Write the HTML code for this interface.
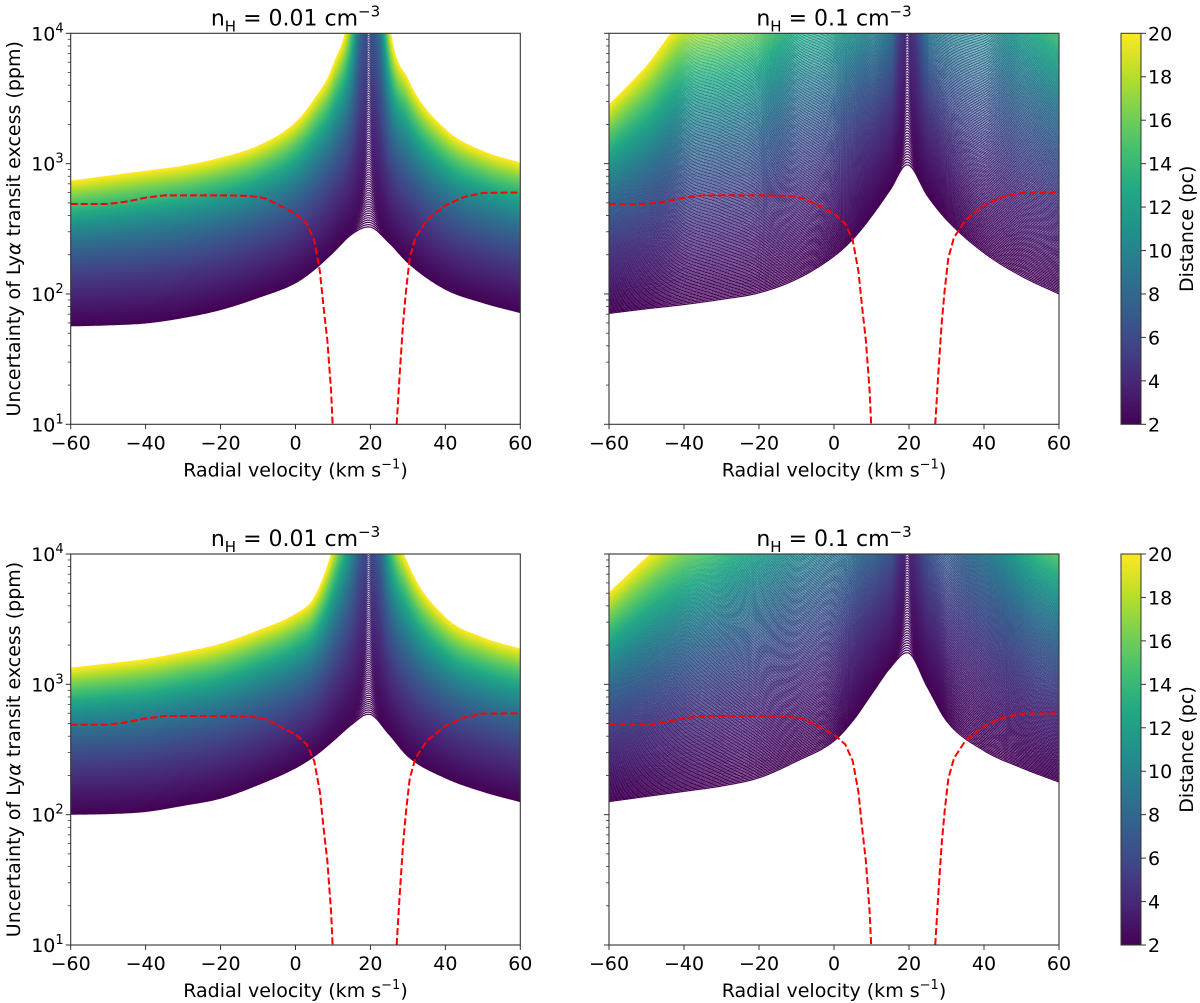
<!DOCTYPE html>
<html>
<head>
<meta charset="utf-8">
<style>
  html,body{margin:0;padding:0;background:#fff;}
  svg{display:block;font-family:"DejaVu Sans","Liberation Sans",sans-serif;}
</style>
</head>
<body>
<svg id="fig" width="1200" height="1003" viewBox="0 0 1200 1003" xmlns="http://www.w3.org/2000/svg">
  <defs>
    <linearGradient id="viridis" x1="0" y1="1" x2="0" y2="0">
      <stop offset="0" stop-color="#440154"/>
      <stop offset="0.1" stop-color="#482475"/>
      <stop offset="0.2" stop-color="#414487"/>
      <stop offset="0.3" stop-color="#355f8d"/>
      <stop offset="0.4" stop-color="#2a788e"/>
      <stop offset="0.5" stop-color="#21918c"/>
      <stop offset="0.6" stop-color="#22a884"/>
      <stop offset="0.7" stop-color="#44bf70"/>
      <stop offset="0.8" stop-color="#7ad151"/>
      <stop offset="0.9" stop-color="#bddf26"/>
      <stop offset="1" stop-color="#fde725"/>
    </linearGradient>
  </defs>
</svg>
<script>
// ---- data ----
const VEL = [-60,-50,-40,-30,-20,-10,0,5,10,15,19.5,25,30,40,50,60];
const TL_LOWER = [57,58,60,66,76,94,122,154,208,287,327,247,174,109,86,72];
const TL_UPPER = [733,800,873,955,1100,1360,2050,3090,5560,20000,1e6,12000,4400,1820,1240,1010];
const TR_LOWER = [71,77,83,91,102,130,195,263,395,632,980,562,372,207,137,100];
const TR_UPPER = [2800,5560,12600,15000,19000,35000,40000,48000,55000,62000,1e7,67000,70000,78000,45000,23000];
const BL_LOWER = [101,102,106,118,134,170,229,281,368,492,590,413,281,192,151,126];
const BL_UPPER = [1330,1430,1550,1750,2030,2570,3450,4600,11000,50000,1e6,25000,8300,3240,2270,1860];
const BR_LOWER = [126,138,151,166,192,257,368,525,840,1340,1750,940,525,310,229,178];
const BR_UPPER = [5000,9300,16000,24000,40000,65000,90000,95000,100000,120000,1e7,200000,220000,100000,33000,18000];
const RED_V_LEFT = [-60,-50,-45,-40,-35,-20,-12,-8,-5,0,3,5,6.5,7.5,8.5,9.5,9.9];
const RED_LEFT = [490,490,512,548,571,571,565,540,490,413,346,258,150,79,44,18,10];
const RED_V_RIGHT = [27,27.8,28.7,29.5,30.5,32,35,40,45,50,60];
const RED_RIGHT = [10,24,59,106,190,271,368,479,555,596,600];
const X_TICKS = [-60,-40,-20,0,20,40,60];
const Y_DECADES = [1,2,3,4];
const CB_TICKS = [2,4,6,8,10,12,14,16,18,20];
const D_MIN = 2, D_MAX = 20, N_CURVES = 200;

const NS = "http://www.w3.org/2000/svg";
const svg = document.getElementById('fig');
function el(tag, attrs, parent){
  const e = document.createElementNS(NS, tag);
  for (const k in attrs) e.setAttribute(k, attrs[k]);
  (parent||svg).appendChild(e);
  return e;
}
const VIR = ["#440154","#482475","#414487","#355f8d","#2a788e","#21918c","#22a884","#44bf70","#7ad151","#bddf26","#fde725"];
function hex2rgb(h){return [parseInt(h.substr(1,2),16),parseInt(h.substr(3,2),16),parseInt(h.substr(5,2),16)];}
function viridis(t){
  t=Math.max(0,Math.min(1,t));
  const s=t*10, i=Math.min(9,Math.floor(s)), f=s-i;
  const a=hex2rgb(VIR[i]), b=hex2rgb(VIR[i+1]);
  return "rgb("+a.map((c,k)=>Math.round(c+(b[k]-c)*f)).join(",")+")";
}
function monoInterp(xs, ys, x){
  const n=xs.length;
  if (x<=xs[0]) return ys[0];
  if (x>=xs[n-1]) return ys[n-1];
  const d=[], m=[];
  for(let i=0;i<n-1;i++) d.push((ys[i+1]-ys[i])/(xs[i+1]-xs[i]));
  m.push(d[0]);
  for(let i=1;i<n-1;i++){ m.push(d[i-1]*d[i]<=0?0:(d[i-1]+d[i])/2); }
  m.push(d[n-2]);
  for(let i=0;i<n-1;i++){ if(d[i]===0){m[i]=0;m[i+1]=0;continue;}
    const a=m[i]/d[i], b=m[i+1]/d[i], s=a*a+b*b;
    if(s>9){const t=3/Math.sqrt(s); m[i]=t*a*d[i]; m[i+1]=t*b*d[i];}}
  let i=0; while(x>xs[i+1]) i++;
  const h=xs[i+1]-xs[i], t=(x-xs[i])/h;
  const h00=2*t*t*t-3*t*t+1, h10=t*t*t-2*t*t+t, h01=-2*t*t*t+3*t*t, h11=t*t*t-t*t;
  return h00*ys[i]+h10*h*m[i]+h01*ys[i+1]+h11*h*m[i+1];
}
const LOG = a => a.map(v=>Math.log10(v));

const panels = [
  {name:'top-left', x0:70.7,x1:520.3,y0:33.3,y1:424.3, lo:TL_LOWER, up:TL_UPPER, title:'0.01', ylab:true},
  {name:'top-right',x0:609,x1:1059,y0:33.3,y1:424.3, lo:TR_LOWER, up:TR_UPPER, title:'0.1', ylab:false},
  {name:'bottom-left', x0:70.7,x1:520.3,y0:554,y1:945, lo:BL_LOWER, up:BL_UPPER, title:'0.01', ylab:true},
  {name:'bottom-right',x0:609,x1:1059,y0:554,y1:945, lo:BR_LOWER, up:BR_UPPER, title:'0.1', ylab:false},
];

panels.forEach((P, pi)=>{
  const g = el('g', {});
  
  
  const xs = v => P.x0 + (v+60)/120*(P.x1-P.x0);
  const ys = lg => P.y1 - (lg-1)/3*(P.y1-P.y0);
  const clipId = 'clip'+pi;
  const cp = el('clipPath', {id:clipId}, g);
  el('rect', {x:P.x0, y:P.y0, width:P.x1-P.x0, height:P.y1-P.y0}, cp);
  const curves = el('g', {'clip-path':'url(#'+clipId+')'}, g);
  
  
  const lo = LOG(P.lo), up = LOG(P.up);
  const vs = [], Ls = [], Us = [];
  for (let v=-60; v<=60.001; v+=0.25){
    vs.push(v); Ls.push(monoInterp(VEL, lo, v)); Us.push(monoInterp(VEL, up, v));
  }
  for (let k=0;k<N_CURVES;k++){
    const f = k/(N_CURVES-1);
    const d = D_MIN*Math.pow(D_MAX/D_MIN, f);
    const t = Math.pow((d-D_MIN)/(D_MAX-D_MIN), 0.85);
    let pts = [];
    for (let i=0;i<vs.length;i++){
      let lg = Ls[i] + f*(Us[i]-Ls[i]);
      lg = Math.min(lg, 4.6);
      pts.push(xs(vs[i]).toFixed(1)+','+ys(lg).toFixed(1));
    }
    const pl = el('polyline', {points:pts.join(' '), fill:'none', stroke:viridis(t), 'stroke-width':1.2}, curves);
    
    
  }
  [[RED_V_LEFT,RED_LEFT],[RED_V_RIGHT,RED_RIGHT]].forEach((pair,j)=>{
    const pts = pair[0].map((v,i)=>xs(v).toFixed(2)+','+ys(Math.log10(pair[1][i])).toFixed(2));
    const rl = el('polyline', {points:pts.join(' '), fill:'none', stroke:'#ff0000', 'stroke-width':2, 'stroke-dasharray':'7,3'}, curves);
    
    
  });
  const fr = el('rect', {x:P.x0, y:P.y0, width:P.x1-P.x0, height:P.y1-P.y0, fill:'none', stroke:'#333', 'stroke-width':1.1}, g);
  
  
  X_TICKS.forEach(t=>{
    const x = xs(t);
    el('line', {x1:x, x2:x, y1:P.y1, y2:P.y1+5, stroke:'#333', 'stroke-width':1}, g);
    const tx = el('text', {x:x, y:P.y1+25, 'text-anchor':'middle', 'font-size':19, fill:'#000'}, g);
    tx.textContent = (t<0?'\u2212':'')+Math.abs(t);
    
    
  });
  const xl = el('text', {x:(P.x0+P.x1)/2, y:P.y1+52, 'text-anchor':'middle', 'font-size':19, fill:'#000'}, g);
  xl.innerHTML = 'Radial velocity (km s<tspan dy="-8" font-size="13">\u22121</tspan><tspan dy="8">)</tspan>';
  
  
  Y_DECADES.forEach(dd=>{
    const y = ys(dd);
    el('line', {x1:P.x0-5, x2:P.x0, y1:y, y2:y, stroke:'#333', 'stroke-width':1}, g);
    if (dd<4) for (let m=2;m<=9;m++){
      const ym = ys(dd+Math.log10(m));
      el('line', {x1:P.x0-3, x2:P.x0, y1:ym, y2:ym, stroke:'#333', 'stroke-width':0.8}, g);
    }
    if (P.ylab){
      const ty = el('text', {x:P.x0-7, y:y+7, 'text-anchor':'end', 'font-size':19, fill:'#000'}, g);
      ty.innerHTML = '10<tspan dy="-8" font-size="13">'+dd+'</tspan>';
      
      
    }
  });
  if (P.ylab){
    const cy = (P.y0+P.y1)/2;
    const yl = el('text', {x:0, y:0, transform:'translate(20,'+cy+') rotate(-90)', 'text-anchor':'middle', 'font-size':19, fill:'#000'}, g);
    yl.innerHTML = 'Uncertainty of Ly<tspan font-style="italic">\u03b1</tspan> transit excess (ppm)';
    
    
  }
  const tt = el('text', {x:(P.x0+P.x1)/2, y:P.y0-8, 'text-anchor':'middle', 'font-size':22, fill:'#000'}, g);
  tt.innerHTML = 'n<tspan dy="6" font-size="15">H</tspan><tspan dy="-6"> = '+P.title+' cm</tspan><tspan dy="-9" font-size="15">\u22123</tspan>';
  
  
});

[[33.3,424.3],[554,945]].forEach((r,ci)=>{
  const g = el('g', {});
  
  
  const x0=1121, x1=1141;
  el('rect', {x:x0, y:r[0], width:x1-x0, height:r[1]-r[0], fill:'url(#viridis)', stroke:'#333', 'stroke-width':1}, g);
  CB_TICKS.forEach(t=>{
    const y = r[1] - (t-D_MIN)/(D_MAX-D_MIN)*(r[1]-r[0]);
    el('line', {x1:x1, x2:x1+5, y1:y, y2:y, stroke:'#333', 'stroke-width':1}, g);
    const tx = el('text', {x:x1+7, y:y+7, 'font-size':19, fill:'#000'}, g);
    tx.textContent = t;
    
    
  });
  const cy=(r[0]+r[1])/2;
  const lb = el('text', {x:0, y:0, transform:'translate(1193,'+cy+') rotate(-90)', 'text-anchor':'middle', 'font-size':19, fill:'#000'}, g);
  lb.textContent = 'Distance (pc)';
  
  
});
</script>
</body>
</html>
